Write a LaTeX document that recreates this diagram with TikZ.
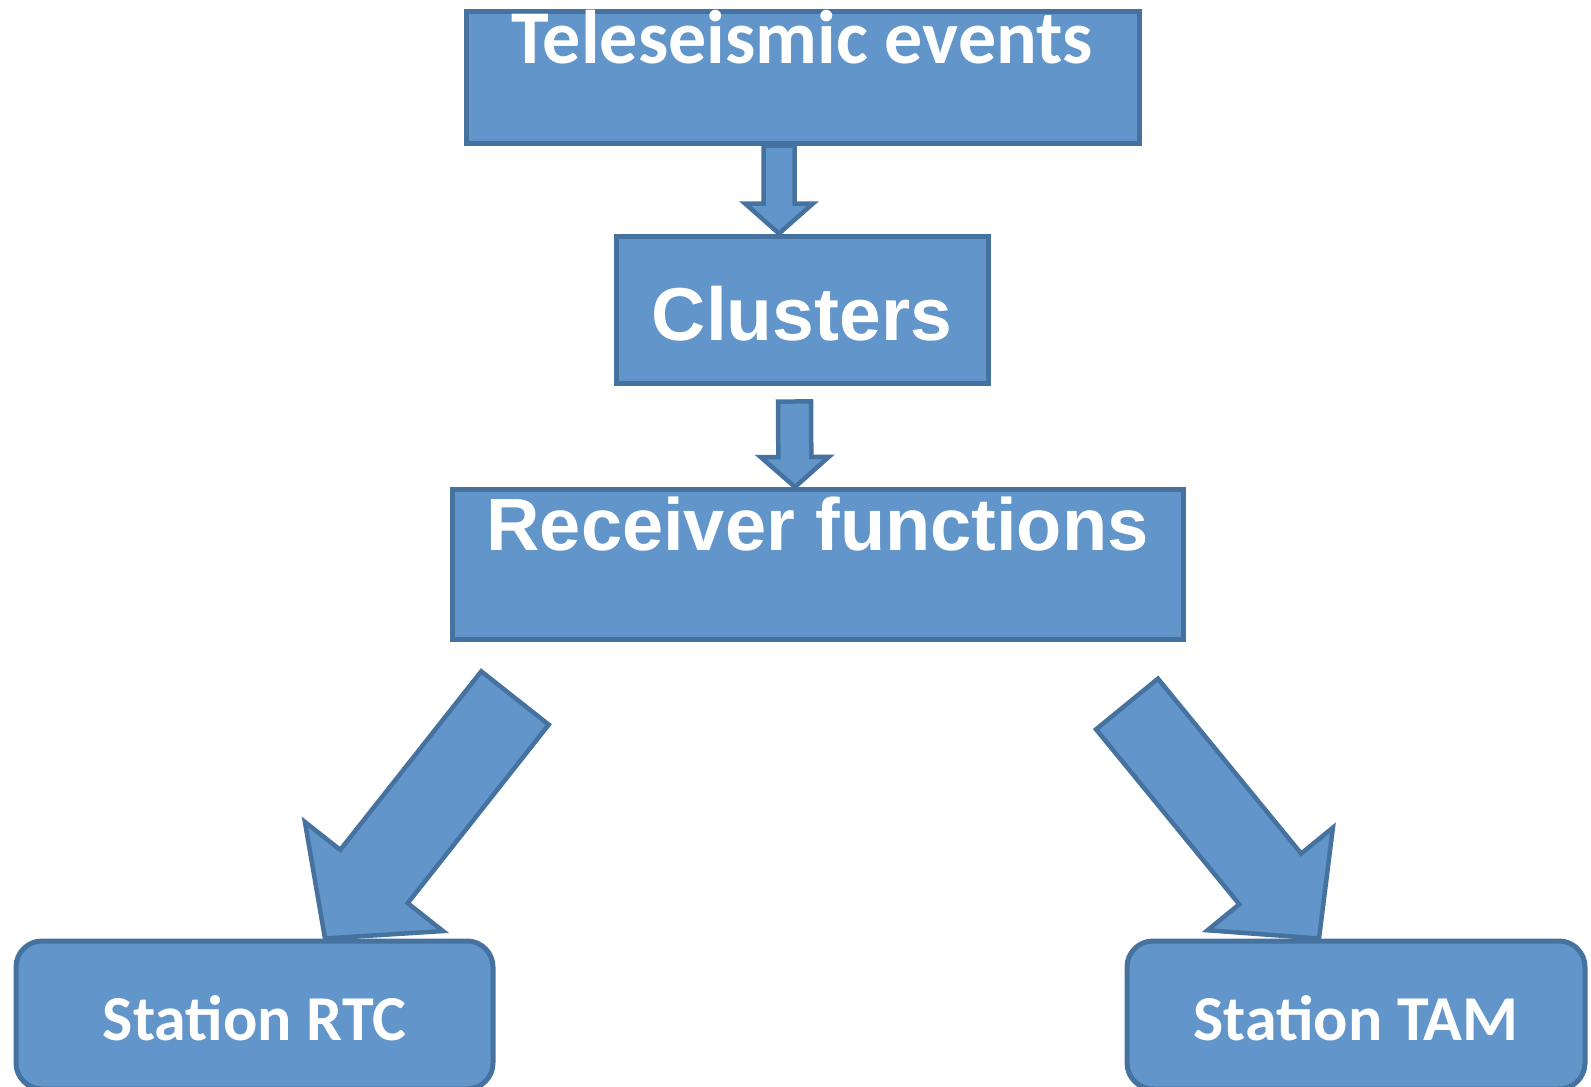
\documentclass[tikz,border=0pt]{standalone}
\usepackage{fontspec}
\setmainfont{Carlito}
\newfontfamily\arialfont{Liberation Sans}
\usetikzlibrary{calc,backgrounds}
\pgfdeclarelayer{background}
\pgfsetlayers{background,main}
\definecolor{flowfill}{RGB}{98,149,201}
\definecolor{flowedge}{RGB}{70,114,160}
% block arrow: tail, tip, shaft half width, head half width, head length
\newcommand{\fatarrow}[5]{%
  \coordinate (fa-base) at ($(#2)!#5!(#1)$);
  \draw[fatarr] ($(#1)!#3!90:(#2)$) -- ($(fa-base)!#3!90:(#2)$)
    -- ($(fa-base)!#4!90:(#2)$) -- (#2) -- ($(fa-base)!#4!-90:(#2)$)
    -- ($(fa-base)!#3!-90:(#2)$) -- ($(#1)!#3!-90:(#2)$) -- cycle;
}

\begin{document}
\begin{tikzpicture}[x=1pt,y=-1pt,
  stagebox/.style={draw=flowedge, fill=flowfill, line width=5pt,
    inner sep=0pt, text=white},
  stationbox/.style={stagebox, rounded corners=26pt,
    minimum width=477pt, minimum height=148pt,
    text height=50pt, text depth=0pt, calfont=64},
  calfont/.style={font=\fontsize{#1}{#1}\selectfont\bfseries},
  arialfont/.style={font=\fontsize{#1}{#1}\arialfont\selectfont\bfseries},
  fatarr/.style={draw=flowedge, fill=flowfill, line width=4.5pt},
]
\useasboundingbox (0,0) rectangle (1591,1087);

\node[stagebox, calfont=76, minimum width=673pt, minimum height=132pt,
  text height=49pt, text depth=77pt] at (802.5,77) (tele) {Teleseismic events};
\node[stagebox, arialfont=75, minimum width=372pt, minimum height=147pt,
  text height=61pt, text depth=0pt] at (802,309.5) (clus) {Clusters};
\node[stagebox, arialfont=74, minimum width=731pt, minimum height=150pt,
  text height=54pt, text depth=83pt] at (817.5,564.5) (recv) {Receiver functions};

\node[stationbox] at (254.5,1015) (rtc) {Station RTC};
\node[stationbox, minimum width=458pt] at (1356,1015) (tam) {Station TAM};

\coordinate (clusTail) at ([xshift=-23.5pt]tele.south);
\coordinate (clusTip)  at ([xshift=-23pt]clus.north);
\coordinate (recvTail) at ([shift={(-7.5,16)}]clus.south);
\coordinate (recvTip)  at ([xshift=-22.5pt]recv.north);
\coordinate (rtcTail)  at ([shift={(-302.5,56)}]recv.south);
\coordinate (rtcTip)   at ([xshift=70.5pt]rtc.north);
\coordinate (tamTail)  at ([shift={(309.5,62)}]recv.south);
\coordinate (tamTip)   at ([xshift=-37pt]tam.north);

\begin{pgfonlayer}{background}
\fatarrow{clusTail}{clusTip}{15.5pt}{34pt}{30pt}
\fatarrow{recvTail}{recvTip}{16.5pt}{34pt}{30pt}
\fatarrow{rtcTail}{rtcTip}{43pt}{88pt}{79pt}
\fatarrow{tamTail}{tamTip}{40pt}{81pt}{77pt}
\end{pgfonlayer}
\end{tikzpicture}
\end{document}
